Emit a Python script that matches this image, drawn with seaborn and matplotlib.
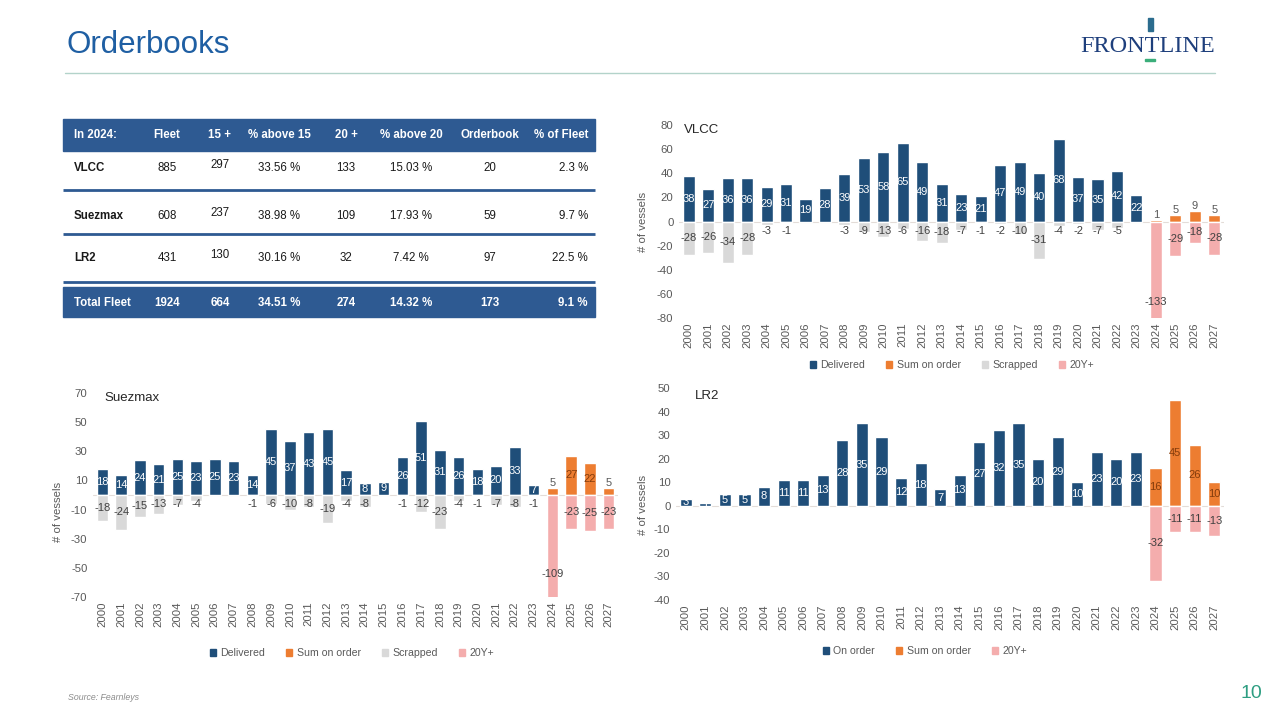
import numpy as np
import pandas as pd
import matplotlib
matplotlib.use('Agg')
import matplotlib.pyplot as plt
from matplotlib import font_manager as fm
from matplotlib.patches import Patch, Rectangle
import seaborn as sns

sns.set_style('white')
installed = {f.name for f in fm.fontManager.ttflist}
narrow = 'Liberation Sans Narrow' if 'Liberation Sans Narrow' in installed else 'Liberation Sans'
plt.rcParams['font.family'] = [narrow, 'DejaVu Sans']
plt.rcParams['axes.unicode_minus'] = False

years = [str(y) for y in range(2000, 2028)]
hist_years = years[:24]
fut_years = years[24:]

# VLCC
vlcc_delivered = [38, 27, 36, 36, 29, 31, 19, 28, 39, 53, 58, 65, 49, 31,
                  23, 21, 47, 49, 40, 68, 37, 35, 42, 22]
vlcc_scrapped = [-28, -26, -34, -28, -3, -1, 0, 0, -3, -9, -13, -6, -16, -18,
                 -7, -1, -2, -10, -31, -4, -2, -7, -5, 0]
vlcc_sum_order = [1, 5, 9, 5]
vlcc_20y = [-133, -29, -18, -28]

# Suezmax
suez_delivered = [18, 14, 24, 21, 25, 23, 25, 23, 14, 45, 37, 43, 45, 17,
                  8, 9, 26, 51, 31, 26, 18, 20, 33, 7]
suez_scrapped = [-18, -24, -15, -13, -7, -4, 0, 0, -1, -6, -10, -8, -19, -4,
                 -8, 0, -1, -12, -23, -4, -1, -7, -8, -1]
suez_sum_order = [5, 27, 22, 5]
suez_20y = [-109, -23, -25, -23]

# LR2
lr2_on_order = [3, 1, 5, 5, 8, 11, 11, 13, 28, 35, 29, 12, 18, 7,
                13, 27, 32, 35, 20, 29, 10, 23, 20, 23]
lr2_sum_order = [16, 45, 26, 10]
lr2_20y = [-32, -11, -11, -13]

# table
tbl_header = ['In 2024:', 'Fleet', '15 +', '% above 15', '20 +', '% above 20',
              'Orderbook', '% of Fleet']
tbl_segments = ['VLCC', 'Suezmax', 'LR2']
tbl_fleet = [885, 608, 431]
tbl_over15 = [297, 237, 130]
tbl_pct15 = [33.56, 38.98, 30.16]
tbl_over20 = [133, 109, 32]
tbl_pct20 = [15.03, 17.93, 7.42]
tbl_orderbook = [20, 59, 97]
tbl_pct_fleet = [2.3, 9.7, 22.5]
tbl_total = ['Total Fleet', 1924, 664, 34.51, 274, 14.32, 173, 9.1]

NAVY = '#1F4E79'
ORANGE = '#ED7D31'
GREY = '#D9D9D9'
PINK = '#F4ADAD'
TXT = '#595959'
HDR = '#2E5A92'
colors = {'Delivered': NAVY, 'On order': NAVY, 'Sum on order': ORANGE,
          'Scrapped': GREY, '20Y+': PINK}


def frame(parts):
    rows = []
    for name, yrs, vals in parts:
        for y, v in zip(yrs, vals):
            if v != 0:
                rows.append({'year': y, 'value': v, 'series': name})
    return pd.DataFrame(rows)


def px(x, y):
    return x / 1280.0, 1 - y / 720.0


fig = plt.figure(figsize=(12.8, 7.2), dpi=100)

# page decoration + table in pixel coordinates
deco = fig.add_axes([0, 0, 1, 1])
deco.set_xlim(0, 1280)
deco.set_ylim(720, 0)
deco.axis('off')
deco.text(67, 45, 'Orderbooks', fontsize=22.5, color='#1F5FA3',
          family='Liberation Sans', va='center', ha='left')
deco.plot([65, 1215], [73, 73], color='#B3D3CA', lw=1)
deco.text(1148, 46, 'FRONTLINE', fontsize=17.5, color='#1E3F7C',
          family='Liberation Serif', va='center', ha='center')
deco.add_patch(Rectangle((1148, 18), 5, 13, color='#2B6C8E'))
deco.add_patch(Rectangle((1145, 59), 10, 2, color='#3BAE7A'))
deco.text(68, 698, 'Source: Fearnleys', fontsize=6.3, color='#8C8C8C',
          style='italic', family='Liberation Sans', va='center')
deco.text(1251, 693, '10', fontsize=14, color='#2E9E82',
          family='Liberation Sans', va='center', ha='center')

tx0, tx1 = 63, 595
col_x = [74, 167, 220, 279, 346, 411, 490, 588]
col_ha = ['left'] + ['center'] * 6 + ['right']
deco.add_patch(Rectangle((tx0, 119), tx1 - tx0, 32, color=HDR))
deco.add_patch(Rectangle((tx0, 287), tx1 - tx0, 30, color=HDR))
for yl in [190, 234, 282]:
    deco.plot([tx0, tx1], [yl, yl], color=HDR, lw=2, solid_capstyle='butt')
for x, ha, h in zip(col_x, col_ha, tbl_header):
    deco.text(x, 135, h, color='white', fontsize=8.3, fontweight='bold',
              ha=ha, va='center')
row_y = [168, 216, 258]
for i, seg in enumerate(tbl_segments):
    vals = [seg, tbl_fleet[i], tbl_over15[i], '%.2f %%' % tbl_pct15[i],
            tbl_over20[i], '%.2f %%' % tbl_pct20[i], tbl_orderbook[i],
            '%.1f %%' % tbl_pct_fleet[i]]
    for j, (x, ha, v) in enumerate(zip(col_x, col_ha, vals)):
        deco.text(x, row_y[i] - (3 if j == 2 else 0), str(v), color='#1A1A1A',
                  fontsize=8.3, fontweight='bold' if j == 0 else 'normal',
                  ha=ha, va='center')
tot = list(tbl_total)
tot[3] = '%.2f %%' % tot[3]
tot[5] = '%.2f %%' % tot[5]
tot[7] = '%.1f %%' % tot[7]
for x, ha, v in zip(col_x, col_ha, tot):
    deco.text(x, 303, str(v), color='white', fontsize=8.3, fontweight='bold',
              ha=ha, va='center')


def draw(rect, df, order_names, ylim, yticks, title, title_xy, ylab_xy, leg_xy):
    ax = fig.add_axes(rect)
    sns.barplot(data=df, x='year', y='value', hue='series', order=years,
                hue_order=order_names, palette=colors, dodge=False, width=0.62,
                saturation=1, errorbar=None, legend=False, ax=ax)
    ax.axhline(0, color='#E3DCD8', lw=0.8, zorder=0)
    ax.set_ylim(*ylim)
    ax.set_xlim(-0.5, len(years) - 0.5)
    ax.set_yticks(yticks)
    ax.set_xlabel('')
    ax.set_ylabel('')
    ax.tick_params(axis='x', labelrotation=90, length=0, pad=3,
                   labelsize=8.2, labelcolor=TXT)
    ax.tick_params(axis='y', length=0, pad=4, labelsize=8.2, labelcolor=TXT)
    sns.despine(ax=ax, left=True, bottom=True)
    # height of one label in data units, to push labels off tiny bars
    unit = (ylim[1] - ylim[0]) / (rect[3] * 720.0)
    for name, cont in zip(order_names, ax.containers):
        for bar in cont:
            h = bar.get_height()
            if np.isnan(h) or h == 0:
                continue
            xc = bar.get_x() + bar.get_width() / 2
            yc = bar.get_y() + h / 2
            v = int(round(h))
            if name in ('Delivered', 'On order'):
                ax.text(xc, yc, v, color='white', fontsize=8, ha='center',
                        va='center')
            elif name == 'Sum on order':
                if v < 10:
                    ax.text(xc, h, v, color=TXT, fontsize=8, ha='center',
                            va='bottom')
                else:
                    ax.text(xc, yc, v, color='#843C0C', fontsize=8,
                            ha='center', va='center')
            else:
                yl = min(yc, -9 * unit)
                ax.text(xc, yl, v, color='#404040', fontsize=8, ha='center',
                        va='center')
    fig.text(*px(*title_xy), title, fontsize=9.5, color='#262626',
             ha='left', va='center')
    fig.text(*px(*ylab_xy), '# of vessels', fontsize=8.2, color=TXT,
             rotation=90, ha='center', va='center')
    handles = [Patch(color=colors[n]) for n in order_names]
    ax.legend(handles, order_names, loc='center', ncol=len(order_names),
              bbox_to_anchor=px(*leg_xy), bbox_transform=fig.transFigure,
              frameon=False, fontsize=7.6, labelcolor=TXT, handlelength=0.6,
              handleheight=0.6, handletextpad=0.4, columnspacing=2.0)
    return ax


vlcc_df = frame([('Delivered', hist_years, vlcc_delivered),
                 ('Sum on order', fut_years, vlcc_sum_order),
                 ('Scrapped', hist_years, vlcc_scrapped),
                 ('20Y+', fut_years, vlcc_20y)])
suez_df = frame([('Delivered', hist_years, suez_delivered),
                 ('Sum on order', fut_years, suez_sum_order),
                 ('Scrapped', hist_years, suez_scrapped),
                 ('20Y+', fut_years, suez_20y)])
lr2_df = frame([('On order', hist_years, lr2_on_order),
                ('Sum on order', fut_years, lr2_sum_order),
                ('20Y+', fut_years, lr2_20y)])

draw([679 / 1280, 1 - 318 / 720, 545 / 1280, 193 / 720], vlcc_df,
     ['Delivered', 'Sum on order', 'Scrapped', '20Y+'], (-80, 80),
     np.arange(-80, 81, 20), 'VLCC', (684, 130), (643, 222), (952, 365))
draw([93 / 1280, 1 - 597 / 720, 525 / 1280, 204 / 720], suez_df,
     ['Delivered', 'Sum on order', 'Scrapped', '20Y+'], (-70, 70),
     np.arange(-70, 71, 20), 'Suezmax', (104, 398), (58, 512), (352, 653))
draw([676 / 1280, 1 - 600 / 720, 548 / 1280, 212 / 720], lr2_df,
     ['On order', 'Sum on order', '20Y+'], (-40, 50),
     np.arange(-40, 51, 10), 'LR2', (695, 396), (643, 505), (925, 651))

fig.savefig('out.png', dpi=100)
